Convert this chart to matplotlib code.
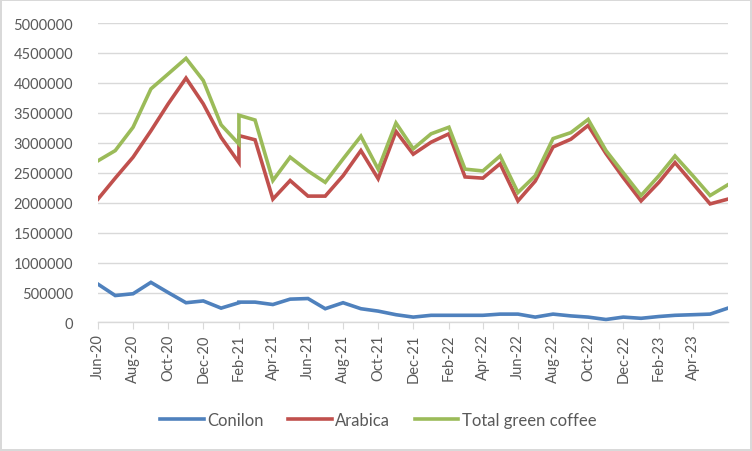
import pandas as pd
import matplotlib
matplotlib.use('Agg')
import matplotlib.pyplot as plt
import matplotlib.dates as mdates

plt.rcParams['font.family'] = ['Lato', 'DejaVu Sans']

# Miesiące (Feb-21 występuje dwa razy - zmiana źródła danych)
dates = pd.to_datetime([
    '2020-06-01', '2020-07-01', '2020-08-01', '2020-09-01', '2020-10-01',
    '2020-11-01', '2020-12-01', '2021-01-01', '2021-02-01', '2021-02-01',
    '2021-03-01', '2021-04-01', '2021-05-01', '2021-06-01', '2021-07-01',
    '2021-08-01', '2021-09-01', '2021-10-01', '2021-11-01', '2021-12-01',
    '2022-01-01', '2022-02-01', '2022-03-01', '2022-04-01', '2022-05-01',
    '2022-06-01', '2022-07-01', '2022-08-01', '2022-09-01', '2022-10-01',
    '2022-11-01', '2022-12-01', '2023-01-01', '2023-02-01', '2023-03-01',
    '2023-04-01', '2023-05-01', '2023-06-01',
])

conilon = [640000, 450000, 480000, 670000, 500000, 330000, 360000, 240000, 330000, 340000,
           340000, 300000, 390000, 400000, 230000, 330000, 230000, 190000, 130000, 90000,
           120000, 120000, 120000, 120000, 140000, 140000, 90000, 140000, 110000, 90000,
           50000, 90000, 70000, 100000, 120000, 130000, 140000, 240000]

arabica = [2060000, 2410000, 2760000, 3200000, 3650000, 4080000, 3650000, 3090000, 2670000, 3120000,
           3050000, 2060000, 2370000, 2110000, 2110000, 2450000, 2870000, 2400000, 3190000, 2810000,
           3010000, 3150000, 2430000, 2410000, 2650000, 2030000, 2360000, 2930000, 3060000, 3290000,
           2820000, 2420000, 2030000, 2340000, 2670000, 2320000, 1980000, 2060000]

total = [2700000, 2870000, 3260000, 3900000, 4150000, 4410000, 4040000, 3300000, 2980000, 3460000,
         3380000, 2370000, 2760000, 2530000, 2340000, 2730000, 3110000, 2560000, 3330000, 2900000,
         3150000, 3260000, 2560000, 2530000, 2780000, 2170000, 2450000, 3070000, 3170000, 3390000,
         2870000, 2500000, 2120000, 2450000, 2780000, 2450000, 2120000, 2300000]

tick_dates = pd.date_range('2020-06-01', '2023-04-01', freq='2MS')

fig = plt.figure(figsize=(7.52, 4.52), dpi=100)
fig.patch.set_edgecolor('#D9D9D9')
fig.patch.set_linewidth(1.5)
ax = fig.add_axes([0.1303, 0.2843, 0.8377, 0.6626])

ax.plot(dates, conilon, color='#4F81BD', lw=2.6, label='Conilon', solid_joinstyle='miter')
ax.plot(dates, arabica, color='#C0504D', lw=2.6, label='Arabica', solid_joinstyle='miter')
ax.plot(dates, total, color='#9BBB59', lw=2.6, label='Total green coffee', solid_joinstyle='miter')

ax.set_ylim(0, 5000000)
ax.set_yticks(range(0, 5000001, 500000))
ax.yaxis.set_major_formatter(matplotlib.ticker.FuncFormatter(lambda v, p: '%d' % v))
ax.set_xlim(dates[0], dates[-1])
ax.set_xticks(tick_dates)
ax.xaxis.set_major_formatter(mdates.DateFormatter('%b-%y'))
plt.setp(ax.get_xticklabels(), rotation=90)

ax.grid(axis='y', color='#D9D9D9', lw=1)
ax.set_axisbelow(True)
for s in ['top', 'right', 'left']:
    ax.spines[s].set_visible(False)
ax.spines['bottom'].set_color('#D9D9D9')
ax.spines['bottom'].set_linewidth(1)
ax.tick_params(axis='y', length=0, pad=18, labelsize=10.5, labelcolor='#595959')
ax.tick_params(axis='x', length=5, color='#D9D9D9', labelsize=10.5, labelcolor='#595959', pad=3)

fig.legend(loc='center', bbox_to_anchor=(0.503, 0.068), ncol=3, frameon=False,
           fontsize=12, labelcolor='#595959', handlelength=2.6, handletextpad=0.2,
           columnspacing=1.5)

fig.savefig('out.png', dpi=100)
